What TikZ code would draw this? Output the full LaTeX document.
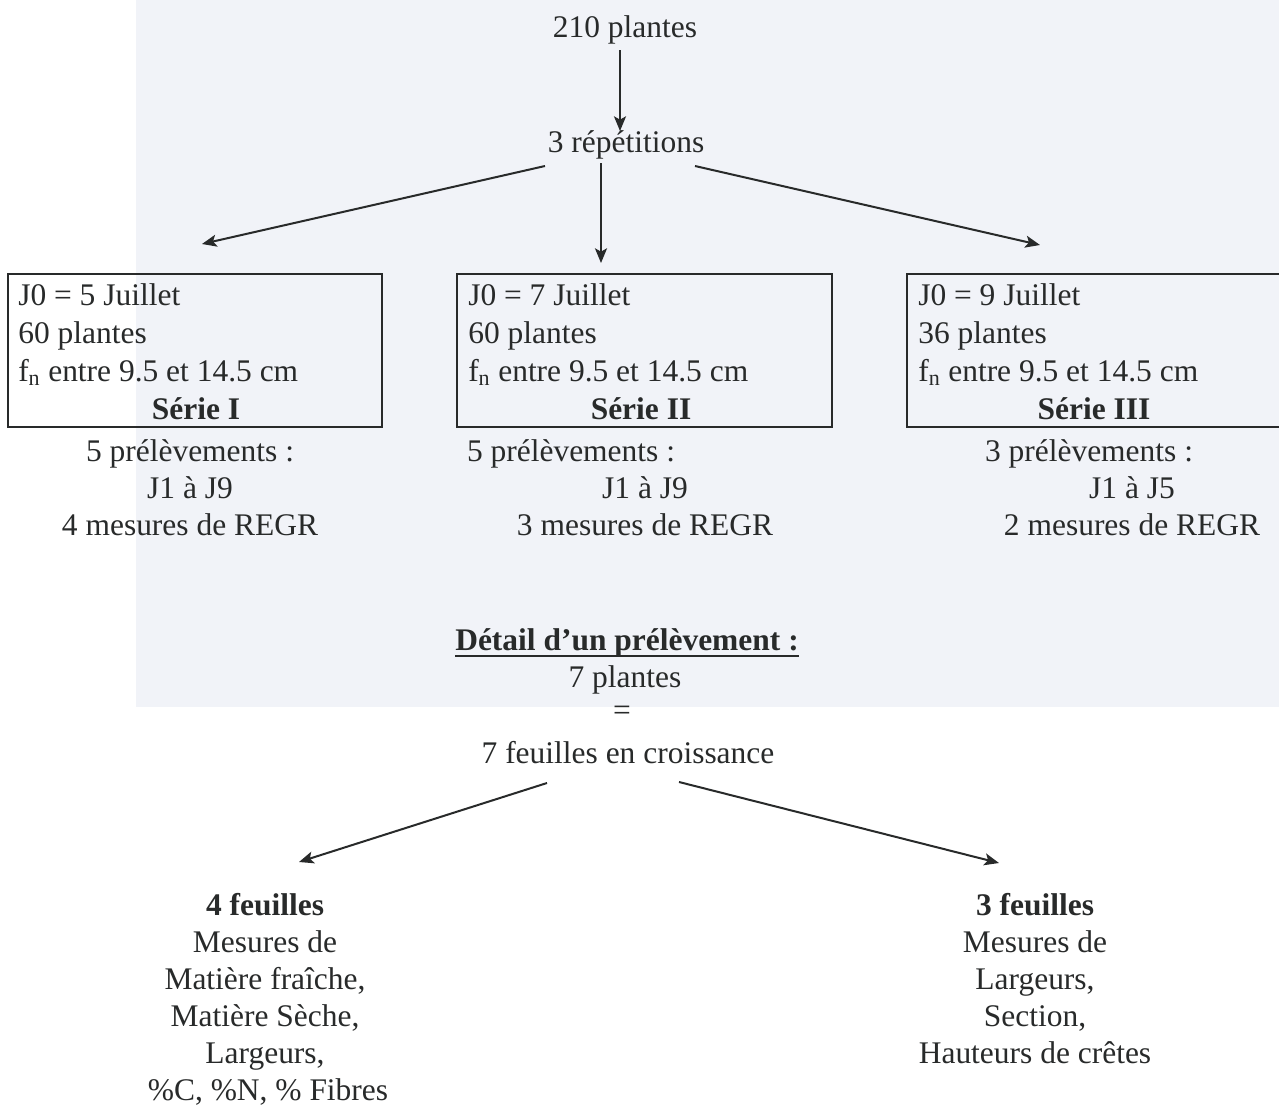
\documentclass[tikz,border=0pt]{standalone}
\usepackage{fontspec}
\setmainfont{Liberation Serif}
\usetikzlibrary{arrows.meta}
\definecolor{ink}{RGB}{40,42,42}
\definecolor{scan}{RGB}{241,243,248}
\begin{document}
\begin{tikzpicture}[x=0.75pt,y=-0.75pt,
  txt/.style={inner sep=0pt, anchor=base, text=ink, font=\fontsize{23.6}{28}\selectfont},
  ltxt/.style={txt, anchor=base west},
  btxt/.style={txt, font=\fontsize{23.6}{28}\selectfont\bfseries},
  boxnode/.style={draw=ink, line width=1.2pt, inner sep=0pt},
  arr/.style={draw=ink, line width=1.5pt, -{Stealth[length=11pt,width=9pt,inset=2.5pt]}},
]
\useasboundingbox (0,0) rectangle (1279,1111);
\fill[scan] (136,0) rectangle (1279,707);

% top
\node[txt] (t210) at (625,37) {210 plantes};
\node[txt] (rep) at (626,152) {3 répétitions};
\coordinate (a0s) at (620,50);
\coordinate (a0e) at (620,131);
\draw[arr] (a0s) -- (a0e);

% boxes
\node[boxnode, minimum width=280.5pt, minimum height=114.75pt] (box1) at (195,350.5) {};
\node[boxnode, minimum width=281.25pt, minimum height=114.75pt] (box2) at (644.5,350.5) {};
\node[boxnode, minimum width=279.75pt, minimum height=114.75pt] (box3) at (1093.5,350.5) {};

% arrows from rep
\coordinate (a1s) at (545,166);
\coordinate (a1e) at (202,244);
\coordinate (a2s) at (601,163);
\coordinate (a2e) at (601,263);
\coordinate (a3s) at (695,166);
\coordinate (a3e) at (1040,245);
\draw[arr] (a1s) -- (a1e);
\draw[arr] (a2s) -- (a2e);
\draw[arr] (a3s) -- (a3e);

% box 1
\node[ltxt] (b1a) at (18,305) {J0 = 5 Juillet};
\node[ltxt] (b1b) at (18,343) {60 plantes};
\node[ltxt] (b1c) at (18,381) {f\textsubscript{n} entre 9.5 et 14.5 cm};
\node[btxt] (b1d) at (196,419) {Série I};
\node[txt] (p1a) at (190,461) {5 prélèvements :};
\node[txt] (p1b) at (190,498) {J1 à J9};
\node[txt] (p1c) at (190,535) {4 mesures de REGR};

% box 2
\node[ltxt] (b2a) at (468,305) {J0 = 7 Juillet};
\node[ltxt] (b2b) at (468,343) {60 plantes};
\node[ltxt] (b2c) at (468,381) {f\textsubscript{n} entre 9.5 et 14.5 cm};
\node[btxt] (b2d) at (641,419) {Série II};
\node[txt] (p2a) at (571,461) {5 prélèvements :};
\node[txt] (p2b) at (645,498) {J1 à J9};
\node[txt] (p2c) at (645,535) {3 mesures de REGR};

% box 3
\node[ltxt] (b3a) at (918,305) {J0 = 9 Juillet};
\node[ltxt] (b3b) at (918,343) {36 plantes};
\node[ltxt] (b3c) at (918,381) {f\textsubscript{n} entre 9.5 et 14.5 cm};
\node[btxt] (b3d) at (1094,419) {Série III};
\node[txt] (p3a) at (1089,461) {3 prélèvements :};
\node[txt] (p3b) at (1132,498) {J1 à J5};
\node[txt] (p3c) at (1132,535) {2 mesures de REGR};

% detail
\node[btxt] (det) at (627,650) {Détail d’un prélèvement :};
\draw[ink, line width=1.3pt] ([yshift=-4.5pt]det.base west) -- ([yshift=-4.5pt]det.base east);
\node[txt] (sept) at (625,687) {7 plantes};
\node[txt] (eq) at (622,720) {=};
\node[txt] (croiss) at (628,763) {7 feuilles en croissance};

\coordinate (a4s) at (547,783);
\coordinate (a4e) at (299,862);
\coordinate (a5s) at (679,782);
\coordinate (a5e) at (999,863);
\draw[arr] (a4s) -- (a4e);
\draw[arr] (a5s) -- (a5e);

% bottom left
\node[btxt] (l1) at (265,915) {4 feuilles};
\node[txt] (l2) at (265,952) {Mesures de};
\node[txt] (l3) at (265,989) {Matière fraîche,};
\node[txt] (l4) at (265,1026) {Matière Sèche,};
\node[txt] (l5) at (265,1063) {Largeurs,};
\node[txt] (l6) at (268,1100) {\%C, \%N, \% Fibres};

% bottom right
\node[btxt] (r1) at (1035,915) {3 feuilles};
\node[txt] (r2) at (1035,952) {Mesures de};
\node[txt] (r3) at (1035,989) {Largeurs,};
\node[txt] (r4) at (1035,1026) {Section,};
\node[txt] (r5) at (1035,1063) {Hauteurs de crêtes};
\end{tikzpicture}
\end{document}
